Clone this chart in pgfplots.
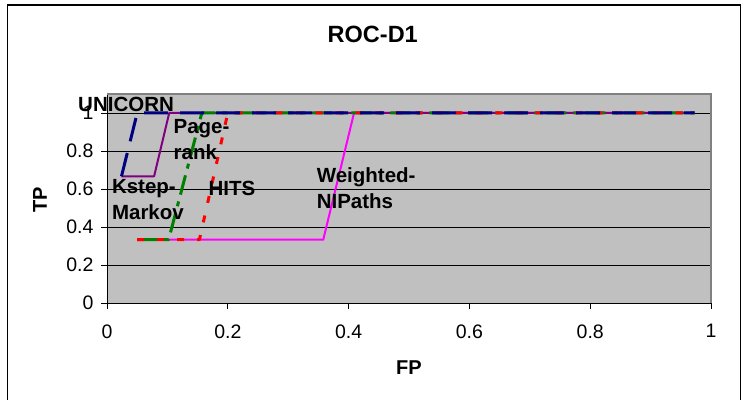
\documentclass[border=0pt]{standalone}
\usepackage{fontspec}
\setmainfont{Liberation Sans}
\usepackage{pgfplots}
\pgfplotsset{compat=1.18}

\definecolor{plotbg}{HTML}{C0C0C0}
\definecolor{frameedge}{HTML}{808080}
\definecolor{unicorn}{HTML}{000080}
\definecolor{kstep}{HTML}{800080}
\definecolor{pagerank}{HTML}{008000}
\definecolor{hits}{HTML}{FF0000}
\definecolor{wnip}{HTML}{FF00FF}

\newcommand{\tickfont}{\fontsize{19.5bp}{22bp}\selectfont}
\newcommand{\lblfont}{\fontsize{20.5bp}{26.5bp}\selectfont\bfseries}

\begin{document}
\begin{tikzpicture}[x=1bp,y=1bp]
\begin{axis}[
  at={(107bp,96bp)}, anchor=south west,
  scale only axis, width=604bp, height=209bp,
  xmin=0, xmax=1, ymin=0, ymax=1.1,
  axis x line*=bottom, axis y line*=left,
  axis line style={black, line width=1bp},
  axis background/.style={fill=plotbg},
  xtick={0,0.2,0.4,0.6,0.8,1},
  xticklabels={0,0.2,0.4,0.6,0.8,1},
  ytick={0,0.2,0.4,0.6,0.8,1},
  yticklabels={0,0.2,0.4,0.6,0.8,1},
  tick align=outside, major tick length=6bp,
  tick style={black, line width=0.8bp},
  ymajorgrids, grid style={black, line width=0.8bp},
  ticklabel style={font=\tickfont},
  yticklabel style={xshift=-4bp},
  xticklabel style={yshift=-12bp},
  clip=false,
  every axis plot/.append style={line join=round},
]
% plot area frame (top and right edges)
\draw[frameedge, line width=1.5bp]
  (rel axis cs:0,1) -- (rel axis cs:1,1) -- (rel axis cs:1,0);

% Weighted-NIPaths
\addplot[wnip, line width=2bp] coordinates {
  (0.05,0.333) (0.358,0.333) (0.409,1) (0.973,1)};
% Kstep-Markov
\addplot[kstep, line width=2bp] coordinates {
  (0.024,0.667) (0.078,0.667) (0.103,1) (0.973,1)};
% Pagerank
\addplot[pagerank, line width=3bp,
  dash pattern=on 20bp off 7bp on 5bp off 7bp] coordinates {
  (0.05,0.333) (0.102,0.333) (0.157,1) (0.973,1)};
% HITS
\addplot[hits, line width=3bp, dash pattern=on 7bp off 13bp] coordinates {
  (0.05,0.333) (0.153,0.333) (0.2,1) (0.973,1)};
% UNICORN
\addplot[unicorn, line width=3bp, dash pattern=on 24bp off 12bp] coordinates {
  (0.024,0.667) (0.05,1) (0.973,1)};

% series names (base anchor sits on the last line)
\node[anchor=base west, inner sep=0pt, font=\lblfont] at (axis cs:-0.048,1.007) {UNICORN};
\node[anchor=base west, inner sep=0pt, font=\lblfont, align=left] at (axis cs:0.110,0.753) {Page-\\rank};
\node[anchor=base west, inner sep=0pt, font=\lblfont, align=left] at (axis cs:0.008,0.437) {Kstep-\\Markov};
\node[anchor=base west, inner sep=0pt, font=\lblfont] at (axis cs:0.168,0.568) {HITS};
\node[anchor=base west, inner sep=0pt, font=\lblfont, align=left] at (axis cs:0.347,0.495) {Weighted-\\NIPaths};

% title and axis titles
\node[font=\fontsize{23.5bp}{27bp}\selectfont\bfseries] at (axis description cs:0.440,1.285) {ROC-D1};
\node[font=\fontsize{20bp}{23bp}\selectfont\bfseries] at (axis description cs:0.5,-0.311) {FP};
\node[font=\fontsize{20bp}{23bp}\selectfont\bfseries, rotate=90] at (axis description cs:-0.111,0.493) {TP};
\end{axis}
% chart frame
\draw[black, line width=1.2bp] (7.3,394) rectangle (740.7,-20);
\pgfresetboundingbox
\path[use as bounding box] (0,0) rectangle (742,399);
\end{tikzpicture}
\end{document}
